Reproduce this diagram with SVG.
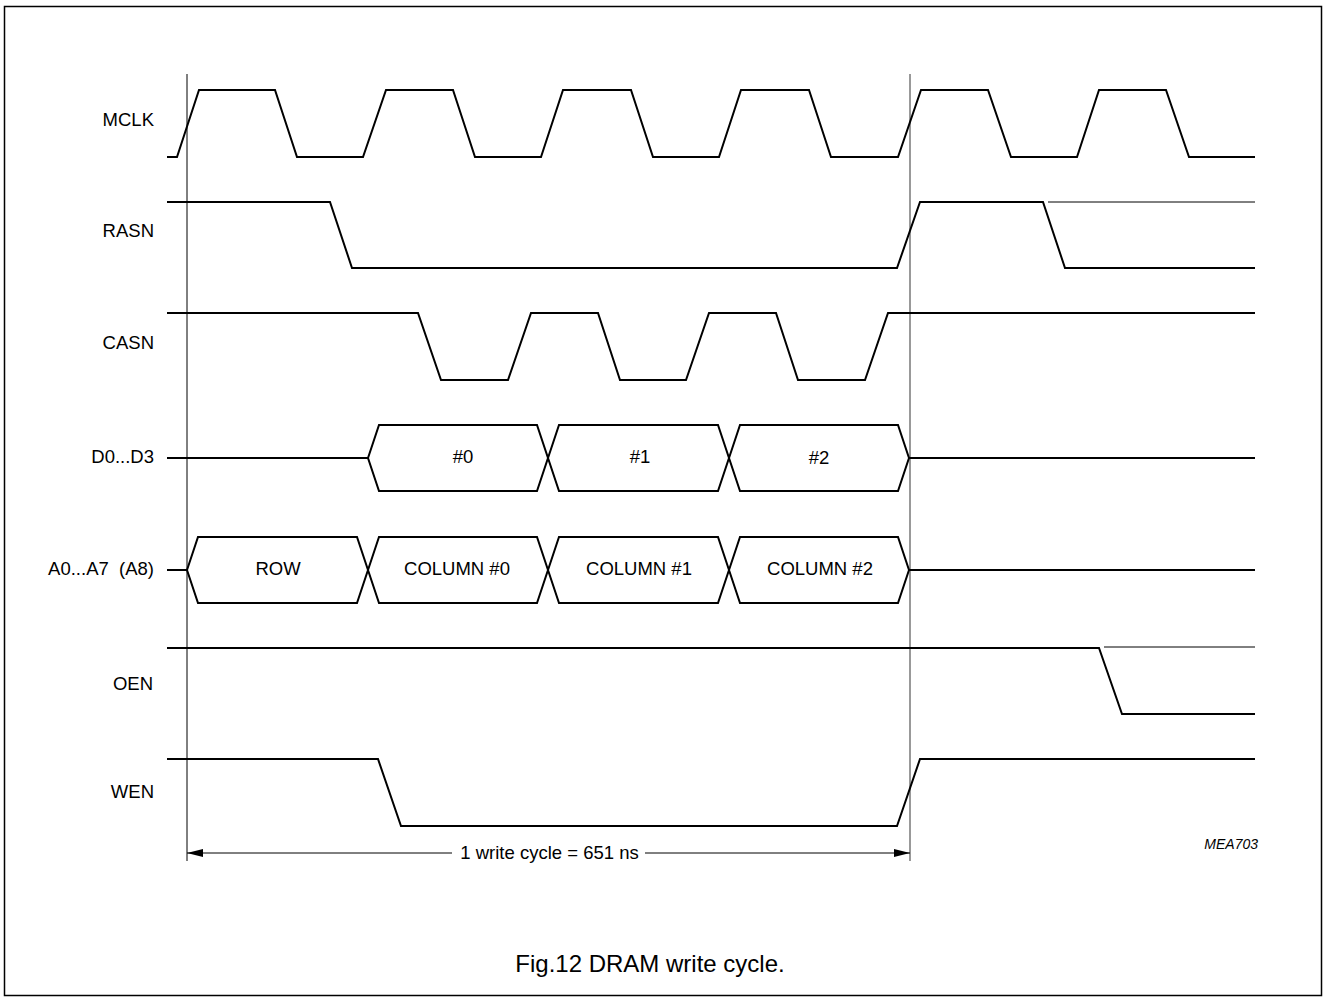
<svg xmlns="http://www.w3.org/2000/svg" width="1326" height="1001" viewBox="0 0 1326 1001">
<defs>
<style>
.sig{fill:none;stroke:#000;stroke-width:2;stroke-linejoin:miter}
.thin{fill:none;stroke:#000;stroke-width:1}
.ref{fill:none;stroke:#000;stroke-width:1}
.ref2{fill:none;stroke:#777;stroke-width:1.5}
.lbl{font-family:"Liberation Sans",Arial,sans-serif;font-size:18.5px;fill:#000;text-anchor:end;white-space:pre}
.bus{font-family:"Liberation Sans",Arial,sans-serif;font-size:18.5px;fill:#000;text-anchor:middle}
</style>
<marker id="ah" viewBox="0 0 16 8" refX="16" refY="4" markerWidth="16" markerHeight="8" markerUnits="userSpaceOnUse" orient="auto-start-reverse">
<path d="M0,0 L16,4 L0,8 Z" fill="#000"/>
</marker>
</defs>
<rect x="4.5" y="6.5" width="1317" height="989" fill="#fff" stroke="#000" stroke-width="1.5"/>

<g id="labels">
<text class="lbl" x="154" y="126">MCLK</text>
<text class="lbl" x="154" y="237">RASN</text>
<text class="lbl" x="154" y="349">CASN</text>
<text class="lbl" x="154" y="463">D0...D3</text>
<text class="lbl" x="154" y="575" xml:space="preserve">A0...A7  (A8)</text>
<text class="lbl" x="153" y="690">OEN</text>
<text class="lbl" x="154" y="798">WEN</text>
</g>

<g id="reference-lines">
<line class="ref" x1="187" y1="74" x2="187" y2="861"/>
<line class="ref2" x1="910" y1="74" x2="910" y2="861"/>
</g>

<g id="MCLK">
<polyline class="sig" points="167,157 177,157 199,90 275,90 297,157 363,157 386,90 453,90 475,157 541,157 563,90 631,90 653,157 719,157 741,90 809,90 831,157 898,157 921,90 988,90 1011,157 1077,157 1099,90 1166,90 1189,157 1255,157"/>
</g>

<g id="RASN">
<polyline class="sig" points="167,202 330,202 352,268 897,268 920,202 1043,202 1065,268 1255,268"/>
<line class="thin" x1="1048" y1="202" x2="1255" y2="202"/>
</g>

<g id="CASN">
<polyline class="sig" points="167,313 418,313 441,380 508,380 531,313 598,313 620,380 686,380 709,313 776,313 798,380 865,380 888,313 1255,313"/>
</g>

<g id="D0-D3">
<line class="sig" x1="167" y1="458" x2="368" y2="458"/>
<path class="sig" d="M368,458 L379,425 L537,425 L548,458 L537,491 L379,491 Z"/>
<path class="sig" d="M548,458 L559,425 L718,425 L729,458 L718,491 L559,491 Z"/>
<path class="sig" d="M729,458 L740,425 L898,425 L909,458 L898,491 L740,491 Z"/>
<line class="sig" x1="909" y1="458" x2="1255" y2="458"/>
<text class="bus" x="463" y="463">#0</text>
<text class="bus" x="640" y="463">#1</text>
<text class="bus" x="819" y="464">#2</text>
</g>

<g id="A0-A7">
<line class="sig" x1="167" y1="570" x2="187" y2="570"/>
<path class="sig" d="M187,570 L198,537 L357,537 L368,570 L357,603 L198,603 Z"/>
<path class="sig" d="M368,570 L379,537 L537,537 L548,570 L537,603 L379,603 Z"/>
<path class="sig" d="M548,570 L559,537 L718,537 L729,570 L718,603 L559,603 Z"/>
<path class="sig" d="M729,570 L740,537 L898,537 L909,570 L898,603 L740,603 Z"/>
<line class="sig" x1="909" y1="570" x2="1255" y2="570"/>
<text class="bus" x="278" y="575">ROW</text>
<text class="bus" x="457" y="575">COLUMN #0</text>
<text class="bus" x="639" y="575">COLUMN #1</text>
<text class="bus" x="820" y="575">COLUMN #2</text>
</g>

<g id="OEN">
<polyline class="sig" points="167,648 1099,648 1122,714 1255,714"/>
<line class="thin" x1="1104" y1="647" x2="1255" y2="647"/>
</g>

<g id="WEN">
<polyline class="sig" points="167,759 378,759 401,826 897,826 920,759 1255,759"/>
</g>

<g id="connectors">
<line class="thin" x1="187" y1="853" x2="452" y2="853" marker-start="url(#ah)"/>
<line class="thin" x1="645" y1="853" x2="910" y2="853" marker-end="url(#ah)"/>
</g>

<text x="549.5" y="859" text-anchor="middle" font-family="Liberation Sans,Arial,sans-serif" font-size="18.5">1 write cycle = 651 ns</text>
<text x="1258" y="849" text-anchor="end" font-family="Liberation Sans,Arial,sans-serif" font-size="14" font-style="italic">MEA703</text>
<text x="650" y="972" text-anchor="middle" font-family="Liberation Sans,Arial,sans-serif" font-size="24">Fig.12 DRAM write cycle.</text>
</svg>
